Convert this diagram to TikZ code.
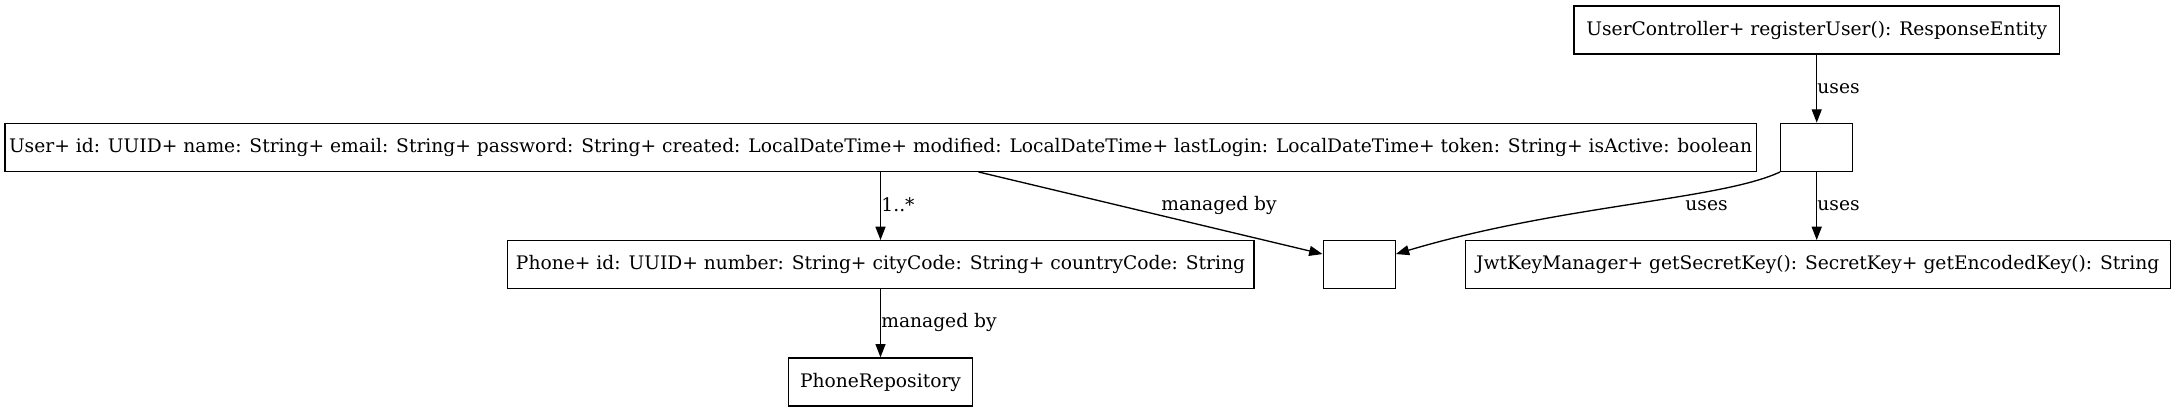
\documentclass[tikz,border=0pt]{standalone}
\usepackage{fontspec}
\setmainfont{DejaVu Serif}
\usetikzlibrary{arrows.meta,calc}
\begin{document}
\begin{tikzpicture}[x=0.75pt,y=-0.75pt,
  box/.style={draw=black,line width=1pt,rectangle,minimum height=36pt,inner sep=0pt,anchor=center,font=\fontsize{14pt}{16pt}\selectfont},
  lbl/.style={inner sep=0pt,anchor=center,font=\fontsize{14pt}{16pt}\selectfont},
  edge/.style={draw=black,line width=1pt,-{Triangle[length=10pt,width=7.5pt]}}]
\useasboundingbox (0,0) rectangle (2173,412);
\node[box,minimum width=364pt] (uc) at (1816.7,30) {UserController+ registerUser(): ResponseEntity};
\node[box,minimum width=1313.5pt] (user) at (880.5,147.3) {User+ id: UUID+ name: String+ email: String+ password: String+ created: LocalDateTime+ modified: LocalDateTime+ lastLogin: LocalDateTime+ token: String+ isActive: boolean};
\node[box,minimum width=54pt] (s1) at (1816.7,147.3) {};
\node[box,minimum width=560pt] (phone) at (880.5,264.7) {Phone+ id: UUID+ number: String+ cityCode: String+ countryCode: String};
\node[box,minimum width=54pt] (s2) at (1359.2,264.7) {};
\node[box,minimum width=528.75pt] (jwt) at (1817.7,264.7) {JwtKeyManager+ getSecretKey(): SecretKey+ getEncodedKey(): String};
\node[box,minimum width=138pt] (prep) at (880.5,382) {PhoneRepository};
\draw[edge] (uc.south -| s1) -- (s1.north);
\node[lbl] (l1) at (1838.5,88.3) {uses};
\draw[edge] (user.south -| phone) -- (phone.north);
\node[lbl] (l2) at (898,205) {1..*};
\draw[edge] ([xshift=73.5pt]user.south) -- ([yshift=8pt]s2.west);
\node[lbl] (l3) at (1219,205) {managed by};
\draw[edge] (s1.south west) .. controls (1720,200) and (1560,205) .. ([yshift=8pt]s2.east);
\node[lbl] (l4) at (1706.5,205.7) {uses};
\draw[edge] (s1.south) -- (s1.south |- jwt.north);
\node[lbl] (l5) at (1838.5,205.7) {uses};
\draw[edge] (phone.south) -- (prep.north);
\node[lbl] (l6) at (939,322.7) {managed by};
\end{tikzpicture}
\end{document}
